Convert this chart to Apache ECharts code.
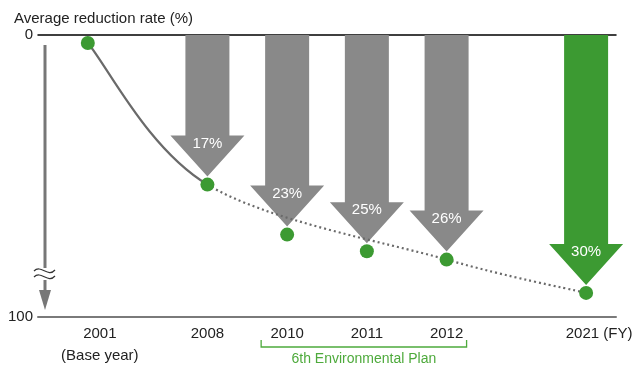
<!DOCTYPE html>
<html>
<head>
<meta charset="utf-8">
<script src="https://cdn.jsdelivr.net/npm/echarts@6/dist/echarts.min.js"></script>
<style>
  html, body { margin: 0; padding: 0; background: #fff; }
  #chart { width: 642px; height: 370px; }
</style>
</head>
<body>
<div id="chart"></div>
<script>
// Fiscal years on the time axis
const years = ['2001', '2008', '2010', '2011', '2012', '2021'];
// Average reduction rate (%) against the 2001 base year
const reduction = [0, 17, 23, 25, 26, 30];
// Down arrows: year and reduction achieved
const arrowYears = ['2008', '2010', '2011', '2012', '2021'];
const arrowValues = [17, 23, 25, 26, 30];
const targetYear = '2021';
// Trend curve through the milestone years (solid up to 2008, dotted after)
const trendYears = ['2001', '2008', '2012', '2021'];
const trendValues = [0, 17, 26, 30];
const solidUntil = '2008';
// Value axis tick labels
const yTicks = [0, 100];
// Plan period bracket under the axis
const planYears = ['2010', '2012'];
const planLabel = '6th Environmental Plan';

// Irregular spacing of the time axis: blank slots before, between and after the years
const leadSlots = 2;
const slotsBetween = [6, 4, 4, 4, 7];
const tailSlots = 1;

const timeline = [];
for (let i = 0; i < leadSlots; i++) timeline.push('');
years.forEach((y, i) => {
  timeline.push(y);
  if (i < slotsBetween.length) for (let k = 1; k < slotsBetween[i]; k++) timeline.push('');
});
for (let i = 0; i < tailSlots; i++) timeline.push('');
const slotOf = (y) => timeline.indexOf(y);

const GRAY = '#898989';
const GREEN = '#3c9a32';
const LIGHT_GREEN = '#4eaa3c';
const FONT = '"Liberation Sans", Arial, sans-serif';

const chart = echarts.init(document.getElementById('chart'), null, { renderer: 'canvas' });

const valueAxis = (show) => ({
  type: 'value',
  inverse: true,
  min: 0,
  max: 100,
  breaks: [{ start: 32, end: 99.5, gap: '4%' }],
  breakArea: { show: false },
  axisLine: { show: false },
  axisTick: { show: false },
  splitLine: { show: false },
  axisLabel: {
    show: show,
    customValues: yTicks,
    color: '#222',
    fontSize: 15,
    fontFamily: FONT,
    margin: 5
  }
});

const labelFor = (v) => {
  if (v === '2001') return '{pad|}2001\n{pad|}(Base year)';
  if (v === '2021') return '{pad2|}2021 (FY)';
  return v;
};

chart.setOption({
  animation: false,
  title: {
    text: 'Average reduction rate (%)',
    left: 9,
    top: 6,
    textStyle: { fontSize: 15, fontWeight: 'normal', color: '#222', fontFamily: FONT }
  },
  grid: [
    { left: 38, right: 26, top: 35, bottom: 53 },
    { left: 38, right: 26, top: 43, bottom: 45 }
  ],
  xAxis: [
    {
      type: 'category', gridIndex: 0, data: timeline, boundaryGap: true,
      position: 'bottom',
      axisLine: { onZero: false, lineStyle: { color: '#7a7a7a', width: 2 } },
      axisTick: { show: false },
      axisLabel: {
        interval: 0, margin: 6, color: '#222', fontSize: 15, fontFamily: FONT,
        lineHeight: 22,
        formatter: labelFor,
        rich: {
          pad: { width: 24 },
          pad2: { width: 26 }
        }
      }
    },
    {
      type: 'category', gridIndex: 0, data: timeline, boundaryGap: true,
      position: 'top',
      axisLine: { onZero: false, lineStyle: { color: '#000', width: 1.5 } },
      axisTick: { show: false },
      axisLabel: { show: false }
    },
    {
      type: 'category', gridIndex: 1, data: timeline, boundaryGap: true,
      show: false
    }
  ],
  yAxis: [
    Object.assign(valueAxis(true), { gridIndex: 0 }),
    Object.assign(valueAxis(false), { gridIndex: 1, show: false })
  ],
  series: [
    {
      // reduction arrows hanging from the zero line
      type: 'custom',
      xAxisIndex: 0, yAxisIndex: 0,
      data: arrowYears.map((y, i) => [y, arrowValues[i]]),
      z: 2,
      renderItem(params, api) {
        const idx = api.value(0);
        const v = api.value(1);
        const top = api.coord([idx, 0]);
        const tip = api.coord([idx, v]);
        const x = tip[0], y0 = top[1], y1 = tip[1];
        const headH = 41, shaftHalf = 22, headHalf = 37;
        const color = arrowYears[params.dataIndex] === targetYear ? GREEN : GRAY;
        return {
          type: 'group',
          children: [
            {
              type: 'polygon',
              shape: { points: [
                [x - shaftHalf, y0], [x + shaftHalf, y0], [x + shaftHalf, y1 - headH],
                [x + headHalf, y1 - headH], [x, y1], [x - headHalf, y1 - headH],
                [x - shaftHalf, y1 - headH]
              ] },
              style: { fill: color }
            },
            {
              type: 'text',
              x: x, y: y1 - 33,
              style: {
                text: v + '%', fill: '#fff', fontSize: 15, fontFamily: FONT,
                align: 'center', verticalAlign: 'middle'
              }
            }
          ]
        };
      }
    },
    {
      // trend curve
      type: 'custom',
      xAxisIndex: 2, yAxisIndex: 1,
      data: trendYears.map((y, i) => [y, trendValues[i]]),
      z: 3,
      renderItem(params, api) {
        const i = params.dataIndex;
        if (i >= trendYears.length - 1) return null;
        const p = trendYears.map((y, k) => api.coord([slotOf(y), trendValues[k]]));
        const p0 = p[Math.max(i - 1, 0)], p1 = p[i], p2 = p[i + 1], p3 = p[Math.min(i + 2, p.length - 1)];
        const t = 1 / 6;
        const solid = slotOf(trendYears[i + 1]) <= slotOf(solidUntil);
        return {
          type: 'bezierCurve',
          shape: {
            x1: p1[0], y1: p1[1], x2: p2[0], y2: p2[1],
            cpx1: p1[0] + (p2[0] - p0[0]) * t, cpy1: p1[1] + (p2[1] - p0[1]) * t,
            cpx2: p2[0] - (p3[0] - p1[0]) * t, cpy2: p2[1] - (p3[1] - p1[1]) * t
          },
          style: solid
            ? { stroke: '#6a6a6a', lineWidth: 2.2, fill: null }
            : { stroke: '#6a6a6a', lineWidth: 2.2, lineDash: [2, 3], fill: null }
        };
      }
    },
    {
      // yearly results
      type: 'scatter',
      xAxisIndex: 2, yAxisIndex: 1,
      data: years.map((y, i) => [y, reduction[i]]),
      symbolSize: 14,
      itemStyle: { color: GREEN, opacity: 1 },
      z: 4
    }
  ]
});

// Decorations: downward axis arrow with break mark, plan bracket
const gx = (y) => chart.convertToPixel({ xAxisIndex: 0 }, slotOf(y));
const x2010 = gx(planYears[0]);
const x2012 = gx(planYears[1]);
const bl = x2010 - 26, br = x2012 + 20;

chart.setOption({
  graphic: [
    { type: 'line', shape: { x1: 45, y1: 45, x2: 45, y2: 292 }, style: { stroke: '#777', lineWidth: 3 } },
    { type: 'polygon', shape: { points: [[39, 290], [51, 290], [45, 310]] }, style: { fill: '#777' } },
    { type: 'rect', shape: { x: 40, y: 268, width: 10, height: 12 }, style: { fill: '#fff' } },
    { type: 'bezierCurve', shape: { x1: 34, y1: 271, cpx1: 41, cpy1: 264, cpx2: 48, cpy2: 278, x2: 55, y2: 270 }, style: { stroke: '#333', lineWidth: 1.2, fill: null } },
    { type: 'bezierCurve', shape: { x1: 34, y1: 277, cpx1: 41, cpy1: 270, cpx2: 48, cpy2: 284, x2: 55, y2: 276 }, style: { stroke: '#333', lineWidth: 1.2, fill: null } },
    { type: 'polyline', shape: { points: [[bl, 340], [bl, 347], [br, 347], [br, 340]] }, style: { stroke: LIGHT_GREEN, lineWidth: 1.3, fill: null } },
    { type: 'text', x: (bl + br) / 2, y: 359, style: { text: planLabel, fill: LIGHT_GREEN, fontSize: 14, fontFamily: FONT, align: 'center', verticalAlign: 'middle' } }
  ]
});
</script>
</body>
</html>
